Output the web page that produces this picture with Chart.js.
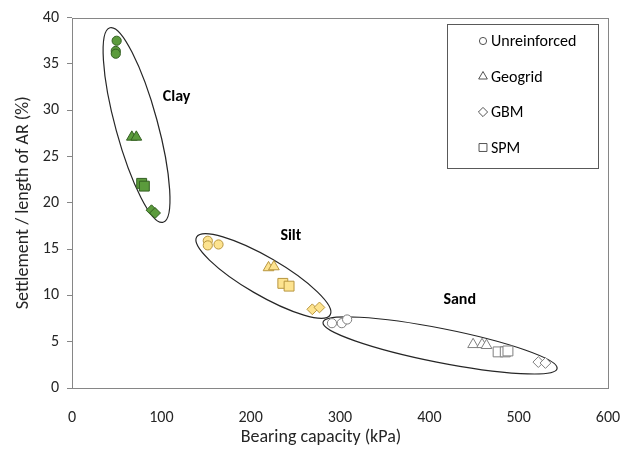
<!DOCTYPE html>
<html>
<head>
<meta charset="utf-8">
<script src="https://cdn.jsdelivr.net/npm/chart.js@4.4.1/dist/chart.umd.min.js"></script>
<style>
  html, body { margin: 0; padding: 0; background: #fff; }
  #wrap { width: 623px; height: 452px; }
</style>
</head>
<body>
<div id="wrap"><canvas id="chart" width="623" height="452"></canvas></div>
<script>
"use strict";

// soils and reinforcement types
var soils = ['Clay', 'Silt', 'Sand'];
var reinforcements = ['Unreinforced', 'Geogrid', 'GBM', 'SPM'];

// [bearing capacity (kPa), settlement / length of AR (%)]
var clayUnreinforced = [[50, 37.5], [49, 36.4], [49, 36.1]];
var clayGeogrid = [[67, 27.1], [72, 27.1]];
var clayGBM = [[89, 19.2], [93, 18.9]];
var claySPM = [[78, 22.1], [81, 21.8]];

var siltUnreinforced = [[152, 15.9], [152, 15.4], [164, 15.5]];
var siltGeogrid = [[220, 13.0], [226, 13.1]];
var siltGBM = [[269, 8.5], [277, 8.7]];
var siltSPM = [[236, 11.3], [243, 11.0]];

var sandUnreinforced = [[291, 7.0], [302, 7.0], [308, 7.4]];
var sandGeogrid = [[449, 4.7], [459, 4.7], [464, 4.6]];
var sandGBM = [[522, 2.8], [530, 2.7]];
var sandSPM = [[477, 3.9], [485, 3.9], [488, 4.0]];

var xTicks = [0, 100, 200, 300, 400, 500, 600];
var yTicks = [0, 5, 10, 15, 20, 25, 30, 35, 40];

var seriesBySoil = {
    Clay: [clayUnreinforced, clayGeogrid, clayGBM, claySPM],
    Silt: [siltUnreinforced, siltGeogrid, siltGBM, siltSPM],
    Sand: [sandUnreinforced, sandGeogrid, sandGBM, sandSPM]
};

var FONT = "Carlito, Lato, 'Open Sans', sans-serif";

var soilStyle = {
    Clay: { fill: '#5b9b3c', line: '#345f22' },
    Silt: { fill: '#fde38f', line: '#b8963f' },
    Sand: { fill: '#ffffff', line: '#7f7f7f' }
};
var markerStyle = {
    Unreinforced: { style: 'circle', r: 4.6 },
    Geogrid: { style: 'triangle', r: 6.2 },
    GBM: { style: 'rectRot', r: 5.4 },
    SPM: { style: 'rect', r: 7 }
};

function toPoints(arr) {
    return arr.map(function (p) { return { x: p[0], y: p[1] }; });
}

var datasets = [];
soils.forEach(function (soil) {
    reinforcements.forEach(function (kind, i) {
        datasets.push({
            label: soil + ' ' + kind,
            data: toPoints(seriesBySoil[soil][i]),
            pointStyle: markerStyle[kind].style,
            pointRadius: markerStyle[kind].r,
            pointHoverRadius: markerStyle[kind].r,
            backgroundColor: soilStyle[soil].fill,
            borderColor: soilStyle[soil].line,
            pointBorderWidth: 1,
            showLine: false
        });
    });
});

// ellipses round each soil group, tips given in data units, half width in px
var groupShapes = {
    Clay: { tips: [[42.5, 38.9], [102, 17.9]], half: 21, text: [117, 31.4] },
    Silt: { tips: [[139.5, 16.3], [289, 7.9]], half: 19, text: [245, 16.4] },
    Sand: { tips: [[281, 7.1], [543, 2.1]], half: 17, text: [434, 9.5] }
};

var groupsPlugin = {
    id: 'groups',
    beforeDatasetsDraw: function (chart) {
        var ctx = chart.ctx, xs = chart.scales.x, ys = chart.scales.y;
        ctx.save();
        soils.forEach(function (soil) {
            var g = groupShapes[soil];
            var x1 = xs.getPixelForValue(g.tips[0][0]), y1 = ys.getPixelForValue(g.tips[0][1]);
            var x2 = xs.getPixelForValue(g.tips[1][0]), y2 = ys.getPixelForValue(g.tips[1][1]);
            var a = Math.hypot(x2 - x1, y2 - y1) / 2;
            var ang = Math.atan2(y2 - y1, x2 - x1);
            ctx.beginPath();
            ctx.ellipse((x1 + x2) / 2, (y1 + y2) / 2, a, g.half, ang, 0, Math.PI * 2);
            ctx.strokeStyle = '#262626';
            ctx.lineWidth = 1.2;
            ctx.stroke();

            ctx.font = 'bold 16px ' + FONT;
            ctx.fillStyle = '#000';
            ctx.textAlign = 'center';
            ctx.textBaseline = 'middle';
            ctx.fillText(soil, xs.getPixelForValue(g.text[0]), ys.getPixelForValue(g.text[1]));
        });
        ctx.restore();
    },
    afterDraw: function (chart) {
        var ctx = chart.ctx, area = chart.chartArea;
        ctx.save();
        // plot area frame
        ctx.strokeStyle = '#868686';
        ctx.lineWidth = 1;
        ctx.strokeRect(Math.round(area.left) + 0.5, Math.round(area.top) + 0.5,
            Math.round(area.right - area.left), Math.round(area.bottom - area.top));

        // x axis title (sits a little left of the plot centre, as in the source)
        ctx.font = '18px ' + FONT;
        ctx.fillStyle = '#262626';
        ctx.textAlign = 'center';
        ctx.textBaseline = 'middle';
        ctx.fillText('Bearing capacity (kPa)', 321, 437);

        // legend box
        var bx = 447, by = 24, bw = 151, bh = 144;
        ctx.strokeStyle = '#595959';
        ctx.strokeRect(bx + 0.5, by + 0.5, bw, bh);
        var sizes = { Unreinforced: 3.6, Geogrid: 5, GBM: 4.6, SPM: 5.6 };
        reinforcements.forEach(function (kind, i) {
            var y = by + 17 + i * 35.5;
            ctx.strokeStyle = '#404040';
            ctx.fillStyle = '#ffffff';
            ctx.lineWidth = 0.9;
            Chart.helpers.drawPoint(ctx, {
                pointStyle: markerStyle[kind].style,
                radius: sizes[kind],
                borderWidth: 0.9
            }, 483, y);
            ctx.font = '16px ' + FONT;
            ctx.fillStyle = '#000';
            ctx.textAlign = 'left';
            ctx.textBaseline = 'middle';
            ctx.fillText(kind, 491, y + 1);
        });
        ctx.restore();
    }
};

new Chart(document.getElementById('chart').getContext('2d'), {
    type: 'scatter',
    data: { datasets: datasets },
    options: {
        responsive: false,
        animation: false,
        devicePixelRatio: 1,
        layout: { padding: { top: 16, right: 15, left: 0, bottom: 0 } },
        plugins: {
            legend: { display: false },
            tooltip: { enabled: false }
        },
        scales: {
            x: {
                type: 'linear',
                min: 0,
                max: 600,
                afterBuildTicks: function (s) { s.ticks = xTicks.map(function (v) { return { value: v }; }); },
                afterFit: function (s) { s.height = 64; s.paddingLeft = 0; s.paddingRight = 0; },
                grid: { display: false },
                border: { display: false },
                ticks: { padding: 12, color: '#262626', font: { family: FONT, size: 16 } },
                title: { display: false }
            },
            y: {
                type: 'linear',
                min: 0,
                max: 40,
                afterBuildTicks: function (s) { s.ticks = yTicks.map(function (v) { return { value: v }; }); },
                afterFit: function (s) { s.width = 72; },
                grid: { drawOnChartArea: false, tickLength: 5, color: '#868686' },
                border: { display: false },
                ticks: { padding: 8, color: '#262626', font: { family: FONT, size: 16 } },
                title: {
                    display: true,
                    text: 'Settlement / length of AR (%)',
                    color: '#262626',
                    font: { family: FONT, size: 18 },
                    padding: { top: 13, bottom: 0 }
                }
            }
        }
    },
    plugins: [groupsPlugin]
});
</script>
</body>
</html>
